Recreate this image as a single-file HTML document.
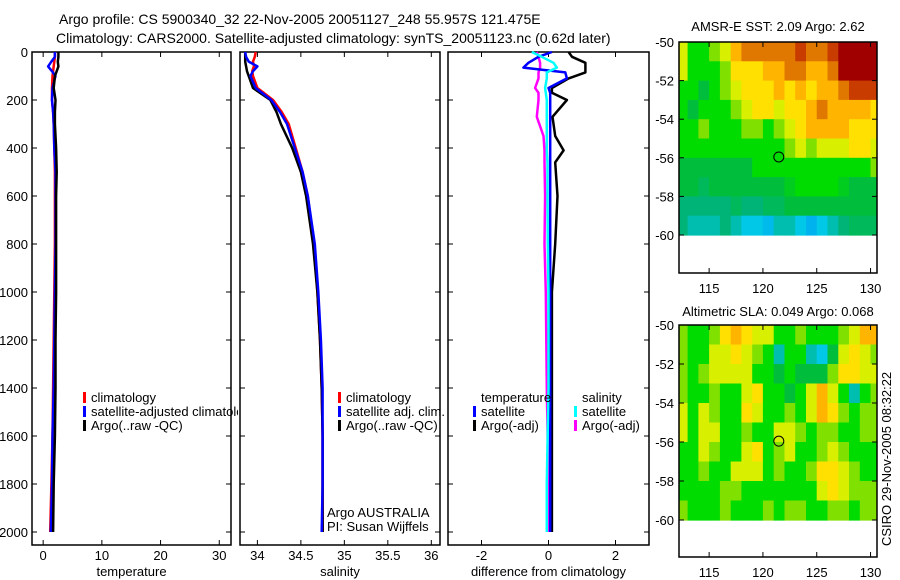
<!DOCTYPE html>
<html><head><meta charset="utf-8"><style>
html,body{margin:0;padding:0;background:#fff;}
svg{display:block;font-family:"Liberation Sans",sans-serif;}
</style></head><body>
<svg id="c" width="900" height="580" xmlns="http://www.w3.org/2000/svg">
<text x="59" y="24" font-size="14">Argo profile: CS 5900340_32 22-Nov-2005 20051127_248 55.957S 121.475E</text>
<text x="56" y="43" font-size="14">Climatology: CARS2000. Satellite-adjusted climatology: synTS_20051123.nc (0.62d later)</text>
<text x="778" y="31" font-size="13" text-anchor="middle">AMSR-E SST: 2.09 Argo: 2.62</text>
<text x="778" y="316" font-size="13" text-anchor="middle">Altimetric SLA: 0.049 Argo: 0.068</text>
<text transform="translate(891,546) rotate(-90)" font-size="13">CSIRO 29-Nov-2005 08:32:22</text>
<clipPath id="legclip"><rect x="0" y="0" width="238" height="580"/></clipPath>
</svg>
<script>
// ---------- data ----------
const depths = [0,20,40,60,80,100,150,200,250,300,400,500,600,800,1000,1200,1400,1600,1800,2000];
const tempClim = [2.0,2.0,1.9,1.8,1.7,1.6,1.5,1.5,1.7,1.8,1.9,2.0,2.0,2.0,1.9,1.8,1.7,1.6,1.4,1.2];
const tempSat = [2.0,2.0,1.4,0.85,1.5,2.1,1.6,1.5,1.7,1.8,1.9,2.1,2.1,2.1,2.0,1.9,1.8,1.6,1.5,1.3];
const tempArgo = [2.6,2.6,2.5,2.6,2.3,2.0,1.8,2.1,2.0,2.0,2.2,2.3,2.2,2.2,2.2,2.1,2.1,2.0,1.8,1.7];
const salClim = [33.98,33.97,33.95,33.96,33.94,33.95,34.0,34.18,34.28,34.36,34.44,34.52,34.58,34.65,34.69,34.72,34.74,34.75,34.75,34.75];
const salSat = [33.86,33.87,33.9,34.0,33.95,33.92,33.98,34.16,34.26,34.34,34.43,34.52,34.58,34.66,34.70,34.73,34.75,34.75,34.75,34.74];
const salArgo = [33.86,33.86,33.86,33.87,33.88,33.9,33.95,34.15,34.22,34.27,34.4,34.5,34.56,34.64,34.69,34.72,34.74,34.75,34.75,34.75];
const diffDepths = [0,20,45,65,85,110,150,170,200,270,350,410,460,600,800,1000,1400,1800,2000];
const dTempArgo = [0.6,0.7,1.1,1.1,1.1,0.6,0.1,0.1,0.55,0.12,0.2,0.45,0.2,0.27,0.2,0.1,0.1,0.1,0.1];
const dTempSat = [0.1,-0.3,-0.6,-0.75,0.5,0.55,0.0,0.05,0.05,0.05,0.05,0.05,0.05,0.05,0.05,0.05,0.05,0.05,0.05];
const dSalSat = [-0.5,-0.2,0.15,0.25,-0.05,-0.05,-0.1,-0.08,-0.05,-0.05,-0.05,-0.05,-0.03,-0.03,-0.02,0,0,-0.05,-0.05];
const dSalArgo = [-0.35,-0.3,-0.25,-0.25,-0.3,-0.3,-0.4,-0.3,-0.3,-0.35,-0.15,-0.12,-0.12,-0.1,-0.12,-0.08,-0.05,0,0];
const depthTicks = [0,200,400,600,800,1000,1200,1400,1600,1800,2000];
const tempTicks = [0,10,20,30];
const salTicks = [34,34.5,35,35.5,36];
const diffTicks = [-2,0,2];
const mapLons = [112,113,114,115,116,117,118,119,120,121,122,123,124,125,126,127,128,129,130];
const mapLats = [-50,-51,-52,-53,-54,-55,-56,-57,-58,-59];
const lonTicks = [115,120,125,130];
const latTicks = [-50,-52,-54,-56,-58,-60];
const argoPos = [121.475,-55.957];
const sstGrid = [
[6,4,4,5,6,8,9,9,9,9,9,10,9,9,10,11,11,11,11],
[6,4,4,4,5,7,7,7,8,8,9,9,8,8,9,11,11,11,11],
[4,4,3,4,5,6,7,7,7,8,7,8,7,8,8,9,10,10,10],
[4,3,4,4,4,5,6,7,7,6,7,7,8,9,8,8,8,8,7],
[4,4,5,4,4,4,5,5,4,5,6,7,8,8,8,8,7,7,7],
[4,4,4,4,4,4,4,4,4,4,5,6,5,6,6,6,7,7,6],
[3,3,3,3,3,3,3,4,4,4,4,4,4,4,4,4,4,4,5],
[3,3,2.5,3,3,3,3,3,3,3,3.5,4,4,4,4,3.5,3,3,3],
[2,2,2,2,2,2.5,2,2,2.5,2.5,3,3,3,3,3,3,3,3,3],
[2,1.5,1.5,1.5,2,1.5,1,1,0.8,1.5,1.5,1,0.7,1,1.5,2,2.5,2.5,2.5]];
const slaGrid = [
[5,4,4,5,7,8,7,6,6,4,4,5,4,4,4,5,6,8,8],
[5,4,4,6,6,7,6,5,4,1.5,4,4,1.5,1,3,6,7,6,5],
[5,4,5,6,6,6,6,4,4,3,4,3,3,3,5,7,7,6,6],
[5,4,4,5,4,4,6,7,4,4,3,4,6,8,6,4,1.5,4,5],
[6,4,6,5,4,4,7,6,4,4,5,4,6,8,7,5,4,5,5],
[6,4,6,6,4,4,5,4,4,6,6,5,4,5,5,4,4,5,5],
[4,4,6,5,4,4,6,7,4,5,6,4,4,5,6,5,4,4,4],
[4,4,5,4,4,6,6,6,4,5,4,4,5,7,7,6,5,4,4],
[4,4,4,4,5,5,4,4,4,4,4,4,4,6,7,6,5,5,5],
[5,4,4,4,5,4,4,4,5,4,5,5,4,4,5,5,4,5,5]];

// ---------- helpers ----------
const NS='http://www.w3.org/2000/svg';
const svg=document.getElementById('c');
function mk(tag,attrs,parent){const e=document.createElementNS(NS,tag);for(const k in attrs)e.setAttribute(k,attrs[k]);(parent||svg).appendChild(e);return e;}
function txt(x,y,s,size,anchor,name,parent){const t=mk('text',{x:x,y:y,'font-size':size,'text-anchor':anchor||'start'},parent);t.textContent=s;


return t;}
const yDepth=d=>52+d*0.24;
const PT=52,PB=545;

function panel(x0,x1,xmin,xmax,ticks,label,showY,pname){
  const xs=v=>x0+(v-xmin)/(xmax-xmin)*(x1-x0);
  const r=mk('rect',{x:x0,y:PT,width:x1-x0,height:PB-PT,fill:'none',stroke:'#000','stroke-width':1.5});
  
  
  ticks.forEach(t=>{const X=xs(t);
    mk('line',{x1:X,x2:X,y1:PB,y2:PB-5,stroke:'#000'});mk('line',{x1:X,x2:X,y1:PT,y2:PT+5,stroke:'#000'});
    txt(X,PB+15,String(t),13,'middle',pname+'-x-tick-label');});
  depthTicks.forEach(d=>{const Y=yDepth(d);
    mk('line',{x1:x0,x2:x0+5,y1:Y,y2:Y,stroke:'#000'});mk('line',{x1:x1,x2:x1-5,y1:Y,y2:Y,stroke:'#000'});
    if(showY) txt(x0-4,Y+5,String(d),13,'end','depth-tick-label');});
  txt((x0+x1)/2,PB+31,label,13,'middle',pname+'-x-axis-title');
  return xs;
}
function line(xs,vals,ds,color,name){
  const p=vals.map((v,i)=>xs(v).toFixed(1)+','+yDepth(ds[i]).toFixed(1)).join(' ');
  const l=mk('polyline',{points:p,fill:'none',stroke:color,'stroke-width':2.5,'stroke-linejoin':'round'});
  
  
}
function legend(x,y,color,label,name,parent){
  mk('rect',{x:x,y:y-6,width:3,height:11,fill:color},parent);
  txt(x+8,y+4,label,13,'start',name,parent);
}

// Panel 1 temperature
const xT=panel(32,231,-1.9,32,tempTicks,'temperature',true,'temperature-panel');
line(xT,tempClim,depths,'#ff0000','temp-climatology-line');
line(xT,tempSat,depths,'#0000ff','temp-satellite-line');
line(xT,tempArgo,depths,'#000000','temp-argo-line');
const lg=mk('g',{'clip-path':'url(#legclip)'});


legend(83,398,'#ff0000','climatology','legend-climatology',lg);
legend(83,412,'#0000ff','satellite-adjusted climatology','legend-satellite-adjusted',lg);
legend(83,426,'#000000','Argo(..raw -QC)','legend-argo',lg);

// Panel 2 salinity
const xS=panel(240,440,33.8,36.1,salTicks,'salinity',false,'salinity-panel');
line(xS,salClim,depths,'#ff0000','sal-climatology-line');
line(xS,salArgo,depths,'#000000','sal-argo-line');
line(xS,salSat,depths,'#0000ff','sal-satellite-line');
legend(338,398,'#ff0000','climatology','legend-sal-climatology');
legend(338,412,'#0000ff','satellite adj. clim.','legend-sal-satellite');
legend(338,426,'#000000','Argo(..raw -QC)','legend-sal-argo');
txt(327,517,'Argo AUSTRALIA',13,'start','argo-australia-label');
txt(327,531,'PI: Susan Wijffels',13,'start','pi-label');

// Panel 3 differences
const xD=panel(448,649,-3,3,diffTicks,'difference from climatology',false,'difference-panel');
line(xD,dTempArgo,diffDepths,'#000000','diff-temp-argo-line');
line(xD,dSalArgo,diffDepths,'#ff00ff','diff-sal-argo-line');
line(xD,dTempSat,diffDepths,'#0000ff','diff-temp-satellite-line');
line(xD,dSalSat,diffDepths,'#00ffff','diff-sal-satellite-line');
txt(481,402,'temperature',13,'start','legend-temperature-heading');
txt(582,402,'salinity',13,'start','legend-salinity-heading');
legend(473,412,'#0000ff','satellite','legend-diff-temp-satellite');
legend(473,426,'#000000','Argo(-adj)','legend-diff-temp-argo');
legend(574,412,'#00ffff','satellite','legend-diff-sal-satellite');
legend(574,426,'#ff00ff','Argo(-adj)','legend-diff-sal-argo');

// ---------- maps ----------
const cmap=[[0,128,255],[0,200,230],[0,180,120],[0,190,60],[0,220,0],[128,224,0],[216,240,0],[255,224,0],[255,180,0],[224,120,0],[200,60,0],[160,0,0]];
function col(v){v=Math.max(0,Math.min(11,v));const i=Math.min(10,Math.floor(v)),f=v-i;const a=cmap[i],b=cmap[i+1];
  return 'rgb('+a.map((c,k)=>Math.round(c+(b[k]-c)*f)).join(',')+')';}
function map(top,minus60,bottom,grid,pname,idn){
  const L=679,R=877,lonMin=112.2,lonMax=130.6;
  const xs=lon=>L+(lon-lonMin)/(lonMax-lonMin)*(R-L);
  const ys=lat=>top+(-50-lat)/10*(minus60-top);
  const cp=mk('clipPath',{id:'clip'+idn});mk('rect',{x:L,y:top,width:R-L,height:bottom-top},cp);
  const g=mk('g',{'clip-path':'url(#clip'+idn+')'});
  
  
  grid.forEach((row,r)=>row.forEach((v,c)=>{
    const x=xs(mapLons[c]),y=ys(mapLats[r]);
    const cell=mk('rect',{x:x.toFixed(1),y:y.toFixed(1),width:(xs(mapLons[c]+1)-x+0.6).toFixed(1),height:(ys(mapLats[r]-1)-y+0.6).toFixed(1),fill:col(v)},g);
    
    
  }));
  const fr=mk('rect',{x:L,y:top,width:R-L,height:bottom-top,fill:'none',stroke:'#000','stroke-width':1.5});
  
  
  lonTicks.forEach(t=>{const X=xs(t);mk('line',{x1:X,x2:X,y1:bottom,y2:bottom-5,stroke:'#000'});mk('line',{x1:X,x2:X,y1:top,y2:top+5,stroke:'#000'});
    txt(X,bottom+20,String(t),13,'middle',pname+'-lon-tick-label');});
  latTicks.forEach(t=>{const Y=ys(t);mk('line',{x1:L,x2:L+5,y1:Y,y2:Y,stroke:'#000'});mk('line',{x1:R,x2:R-5,y1:Y,y2:Y,stroke:'#000'});
    txt(L-5,Y+5,String(t),13,'end',pname+'-lat-tick-label');});
  const c=mk('circle',{cx:xs(argoPos[0]),cy:ys(argoPos[1]),r:5,fill:'none',stroke:'#000','stroke-width':1});
  
  
}
map(42,235,273,sstGrid,'sst-map',1);
map(325,520,557,slaGrid,'sla-map',2);
</script>
</body></html>
